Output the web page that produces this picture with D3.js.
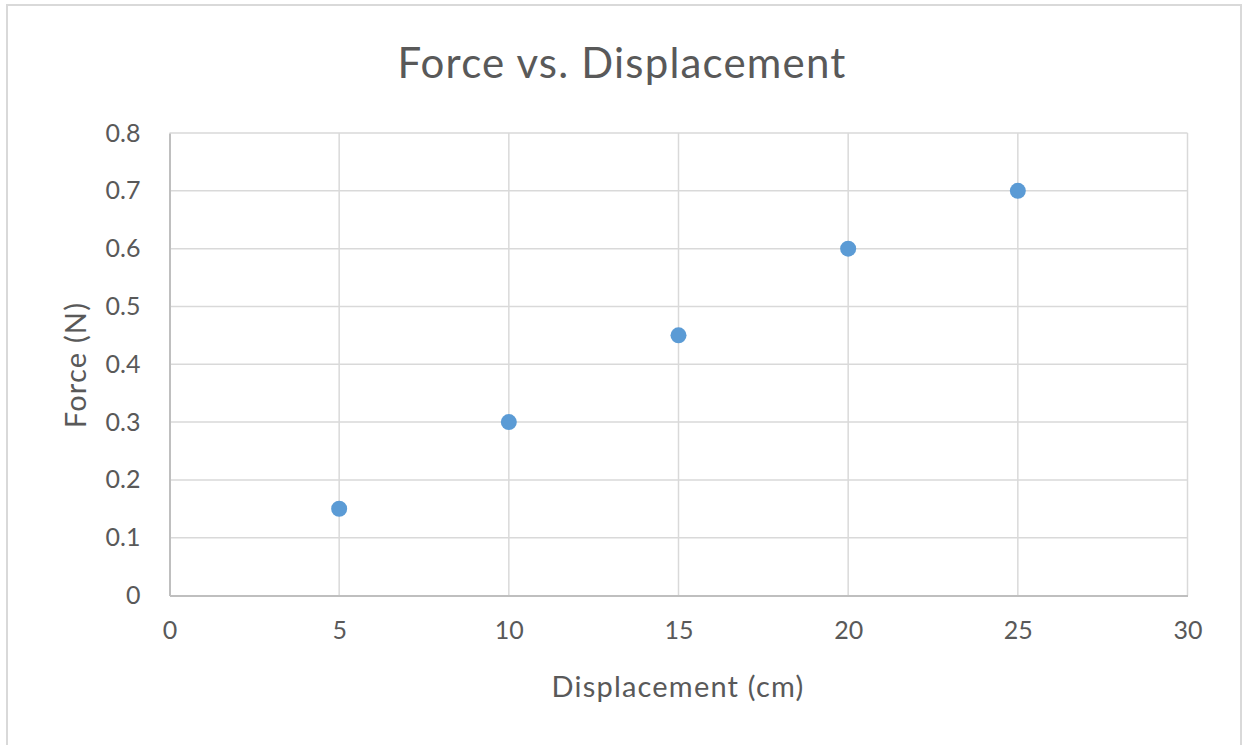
<!DOCTYPE html>
<html><head><meta charset="utf-8">
<script src="https://cdn.jsdelivr.net/npm/d3@7"></script>
<style>body{margin:0;background:#fff;}svg{display:block;font-family:Lato,"Open Sans",sans-serif;}</style>
</head><body><svg id="c" width="1243" height="745"></svg>
<script>
const displacement = [5, 10, 15, 20, 25];
const force = [0.15, 0.30, 0.45, 0.60, 0.70];
const xTicks = [0, 5, 10, 15, 20, 25, 30];
const yTicks = [0, 0.1, 0.2, 0.3, 0.4, 0.5, 0.6, 0.7, 0.8];

const svg = d3.select("#c");
const L = 169.5, R = 1187.5, T = 133, B = 595.5;
const x = d3.scaleLinear().domain([0, 30]).range([L, R]);
const y = d3.scaleLinear().domain([0, 0.8]).range([B, T]);
const txt = "#595959";

svg.append("rect").attr("x", 7).attr("y", 5).attr("width", 1234).attr("height", 745)
  .attr("fill", "#fff").attr("stroke", "#d9d9d9").attr("stroke-width", 2);

// gridlines
svg.append("g").selectAll("line").data(yTicks.slice(1)).join("line")
  .attr("x1", L).attr("x2", R).attr("y1", d => y(d)).attr("y2", d => y(d))
  .attr("stroke", "#d9d9d9").attr("stroke-width", 1.5);
svg.append("g").selectAll("line").data(xTicks.slice(1)).join("line")
  .attr("y1", T).attr("y2", B).attr("x1", d => x(d)).attr("x2", d => x(d))
  .attr("stroke", "#d9d9d9").attr("stroke-width", 1.5);

// axes
const xAxis = svg.append("g").attr("transform", `translate(0,${B})`)
  .call(d3.axisBottom(x).tickValues(xTicks).tickSize(0).tickPadding(26).tickFormat(d3.format("d")));
const yAxis = svg.append("g").attr("transform", `translate(${L},0)`)
  .call(d3.axisLeft(y).tickValues(yTicks).tickSize(0).tickPadding(29).tickFormat(d => d === 0 ? "0" : d3.format(".1f")(d)));
[xAxis, yAxis].forEach(a => {
  a.select(".domain").attr("stroke", "#bfbfbf").attr("stroke-width", 2);
  a.selectAll("text").attr("fill", txt).attr("font-size", 25).attr("font-family", "Lato, 'Open Sans', sans-serif");
});

// points
svg.append("g").selectAll("circle").data(displacement).join("circle")
  .attr("cx", d => x(d)).attr("cy", (d, i) => y(force[i])).attr("r", 8)
  .attr("fill", "#5b9bd5");

// titles
svg.append("text").attr("x", 622).attr("y", 78).attr("text-anchor", "middle")
  .attr("fill", txt).attr("font-size", 42).attr("letter-spacing", 1.2).text("Force vs. Displacement");
svg.append("text").attr("x", 678).attr("y", 697).attr("text-anchor", "middle")
  .attr("fill", txt).attr("font-size", 29).attr("letter-spacing", 1.2).text("Displacement (cm)");
svg.append("text").attr("transform", "translate(86,365) rotate(-90)").attr("text-anchor", "middle")
  .attr("fill", txt).attr("font-size", 29).attr("letter-spacing", 1.2).text("Force (N)");
</script></body></html>
